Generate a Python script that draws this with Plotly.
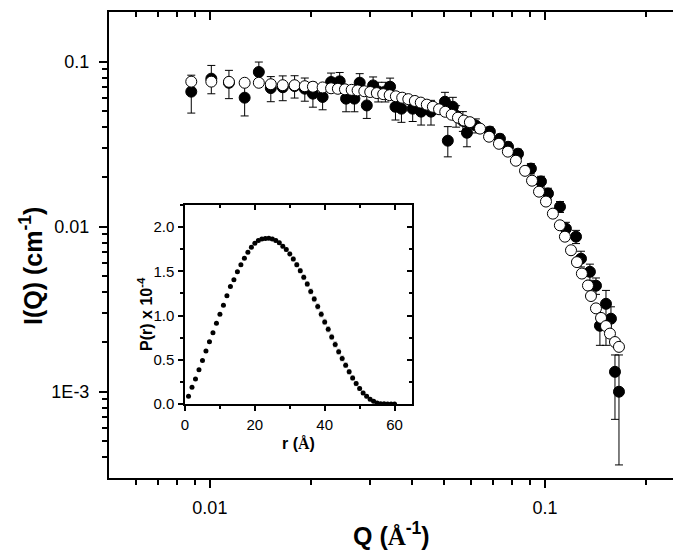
import plotly.graph_objects as go
import math

# ---------------- main plot data ----------------
q_open = [0.0088, 0.0101, 0.0114, 0.0127, 0.0140, 0.0152, 0.0165, 0.0179, 0.0192, 0.0203,
          0.0217, 0.0230, 0.0241, 0.0253, 0.0265, 0.0276, 0.0289, 0.0301, 0.0315, 0.0329,
          0.0344, 0.0359, 0.0375, 0.0391, 0.0409, 0.0426, 0.0444, 0.0463, 0.0483, 0.0504,
          0.0527, 0.0550, 0.0573, 0.0597, 0.0640, 0.0681, 0.0729, 0.0775, 0.0819, 0.0872,
          0.0915, 0.0960, 0.1007, 0.1056, 0.1108, 0.1147, 0.1196, 0.1246, 0.1289, 0.1344,
          0.1372, 0.1420, 0.1470, 0.1521, 0.1563, 0.1618, 0.1663]
i_open = [0.0757, 0.0757, 0.0755, 0.0745, 0.0745, 0.0730, 0.0720, 0.0720, 0.0710, 0.0705,
          0.0698, 0.0690, 0.0685, 0.0680, 0.0675, 0.0670, 0.0662, 0.0655, 0.0645, 0.0636,
          0.0627, 0.0617, 0.0605, 0.0593, 0.0578, 0.0565, 0.0549, 0.0533, 0.0515, 0.0497,
          0.0477, 0.0458, 0.0440, 0.0430, 0.0393, 0.0351, 0.0318, 0.0285, 0.0251, 0.0218,
          0.0190, 0.0163, 0.0142, 0.0120, 0.0102, 0.0087, 0.0072, 0.0061, 0.0052, 0.0044,
          0.0038, 0.0032, 0.0028, 0.0025, 0.00225, 0.0020, 0.00187]
e_open = [0.0022, 0.0022, 0.0022, 0.0021, 0.0021, 0.0021, 0.0020, 0.0020, 0.0020, 0.0020,
          0.0020, 0.0019, 0.0019, 0.0019, 0.0019, 0.0018, 0.0018, 0.0018, 0.0018, 0.0017,
          0.0017, 0.0017, 0.0016, 0.0016, 0.0016, 0.0015, 0.0015, 0.0015, 0.0014, 0.0014,
          0.0013, 0.0013, 0.0012, 0.0012, 0.0011, 0.0010, 0.0009, 0.0008, 0.0007, 0.0006,
          0.0005, 0.00045, 0.0004, 0.00035, 0.0003, 0.00026, 0.00022, 0.00018, 0.00016, 0.00013,
          0.00012, 0.0001, 0.00009, 0.00008, 0.00007, 0.00006, 0.00006]

q_fill = [0.0088, 0.0101, 0.0114, 0.0127, 0.0140, 0.0152, 0.0165, 0.0179, 0.0192, 0.0203,
          0.0217, 0.0230, 0.0244, 0.0255, 0.0270, 0.0280, 0.0294, 0.0307, 0.0318, 0.0334,
          0.0345, 0.0358, 0.0373, 0.0403, 0.0427, 0.0457, 0.0503, 0.0513, 0.0531, 0.0543,
          0.0569, 0.0585, 0.0622, 0.0685, 0.0734, 0.0776, 0.0831, 0.0908, 0.0973, 0.1021,
          0.1109, 0.1155, 0.1238, 0.1281, 0.1362, 0.1420, 0.1459, 0.1521, 0.1574, 0.1618,
          0.1663]
i_fill = [0.0658, 0.0789, 0.0745, 0.0605, 0.0866, 0.0692, 0.0700, 0.0712, 0.0686, 0.0640,
          0.0611, 0.0753, 0.0760, 0.0597, 0.0597, 0.0746, 0.0543, 0.0718, 0.0660, 0.0660,
          0.0705, 0.0533, 0.0519, 0.0519, 0.0498, 0.0498, 0.0572, 0.0332, 0.0533, 0.0471,
          0.0438, 0.0371, 0.0410, 0.0377, 0.0341, 0.0305, 0.0277, 0.0225, 0.0188, 0.0159,
          0.0132, 0.00973, 0.00870, 0.00640, 0.00533, 0.00439, 0.00251, 0.00341, 0.00277, 0.00132,
          0.00100]
e_fill_up = [0.0170, 0.0160, 0.0141, 0.0148, 0.0129, 0.0120, 0.0120, 0.0110, 0.0110, 0.0110,
             0.0100, 0.0100, 0.0100, 0.0100, 0.0100, 0.0100, 0.0090, 0.0090, 0.0090, 0.0090,
             0.0090, 0.0090, 0.0090, 0.0085, 0.0085, 0.0085, 0.0080, 0.0072, 0.0075, 0.0070,
             0.0060, 0.0033, 0.0040, 0.0025, 0.0022, 0.0020, 0.0018, 0.0016, 0.0014, 0.0012,
             0.0010, 0.0009, 0.0008, 0.0007, 0.0006, 0.0005, 0.0008, 0.0007, 0.0005, 0.00035,
             0.00067]
e_fill_dn = [0.0170, 0.0150, 0.0148, 0.0136, 0.0130, 0.0120, 0.0120, 0.0110, 0.0110, 0.0110,
             0.0100, 0.0100, 0.0100, 0.0100, 0.0100, 0.0100, 0.0090, 0.0090, 0.0090, 0.0090,
             0.0090, 0.0090, 0.0090, 0.0085, 0.0085, 0.0085, 0.0080, 0.0067, 0.0075, 0.0070,
             0.0060, 0.0066, 0.0040, 0.0025, 0.0022, 0.0020, 0.0018, 0.0016, 0.0014, 0.0012,
             0.0010, 0.0009, 0.0008, 0.0007, 0.0006, 0.0005, 0.0006, 0.0015, 0.0005, 0.00064,
             0.00064]

x_major = [0.01, 0.1]
x_major_text = ["0.01", "0.1"]
x_minor = [0.006, 0.007, 0.008, 0.009, 0.02, 0.03, 0.04, 0.05, 0.06, 0.07, 0.08, 0.09, 0.2]
y_major = [0.001, 0.01, 0.1]
y_major_text = ["1E-3", "0.01", "0.1"]
y_minor = [0.0004, 0.0005, 0.0006, 0.0007, 0.0008, 0.0009,
           0.002, 0.003, 0.004, 0.005, 0.006, 0.007, 0.008, 0.009,
           0.02, 0.03, 0.04, 0.05, 0.06, 0.07, 0.08, 0.09]
x_range = [0.005, 0.26]
y_range = [0.0003, 0.2]

# ---------------- inset data ----------------
r_vals = list(range(1, 61))
p_vals = [0.087, 0.189, 0.284, 0.386, 0.492, 0.598, 0.705, 0.807, 0.913, 1.015,
          1.117, 1.223, 1.330, 1.405, 1.496, 1.576, 1.648, 1.716, 1.773, 1.818,
          1.848, 1.867, 1.871, 1.875, 1.867, 1.848, 1.822, 1.784, 1.746, 1.697,
          1.640, 1.576, 1.508, 1.432, 1.356, 1.273, 1.186, 1.102, 1.015, 0.928,
          0.845, 0.758, 0.674, 0.591, 0.515, 0.439, 0.364, 0.295, 0.231, 0.174,
          0.125, 0.087, 0.053, 0.030, 0.011, 0.004, 0.002, 0.001, 0.0005, 0.0]
p_err = [0.005, 0.005, 0.006, 0.006, 0.007, 0.007, 0.008, 0.008, 0.009, 0.009,
         0.010, 0.010, 0.011, 0.011, 0.012, 0.012, 0.013, 0.013, 0.014, 0.014,
         0.015, 0.015, 0.016, 0.016, 0.017, 0.018, 0.019, 0.020, 0.021, 0.022,
         0.023, 0.024, 0.025, 0.026, 0.027, 0.028, 0.029, 0.030, 0.030, 0.030,
         0.030, 0.030, 0.030, 0.029, 0.028, 0.027, 0.026, 0.025, 0.024, 0.022,
         0.020, 0.018, 0.016, 0.014, 0.012, 0.010, 0.008, 0.006, 0.004, 0.002]
r_range = [0, 65]
p_range = [0, 2.25]
r_ticks = [0, 20, 40, 60]
p_ticks = [0, 0.5, 1.0, 1.5, 2.0]
p_ticktext = ["0.0", "0.5", "1.0", "1.5", "2.0"]

FONT = "Liberation Sans, Arial, sans-serif"

fig = go.Figure()

fig.add_trace(go.Scatter(
    x=q_fill, y=i_fill, mode="markers",
    marker=dict(symbol="circle", size=11, color="black", line=dict(color="black", width=1)),
    error_y=dict(type="data", array=e_fill_up, arrayminus=e_fill_dn, symmetric=False,
                 color="black", thickness=1, width=4),
    xaxis="x", yaxis="y", showlegend=False, hoverinfo="skip"))

fig.add_trace(go.Scatter(
    x=q_open, y=i_open, mode="markers",
    marker=dict(symbol="circle", size=11, color="white", line=dict(color="black", width=1)),
    error_y=dict(type="data", array=e_open, color="black", thickness=1, width=3),
    xaxis="x", yaxis="y", showlegend=False, hoverinfo="skip"))

fig.add_trace(go.Scatter(
    x=r_vals, y=p_vals, mode="markers",
    marker=dict(symbol="circle", size=5, color="black"),
    error_y=dict(type="data", array=p_err, color="#bbbbbb", thickness=1, width=2),
    xaxis="x2", yaxis="y2", showlegend=False, hoverinfo="skip"))

# dummy traces so mirror axes render
fig.add_trace(go.Scatter(x=[None], y=[None], xaxis="x3", yaxis="y", showlegend=False, hoverinfo="skip"))
fig.add_trace(go.Scatter(x=[None], y=[None], xaxis="x", yaxis="y3", showlegend=False, hoverinfo="skip"))
fig.add_trace(go.Scatter(x=[None], y=[None], xaxis="x4", yaxis="y2", showlegend=False, hoverinfo="skip"))
fig.add_trace(go.Scatter(x=[None], y=[None], xaxis="x2", yaxis="y4", showlegend=False, hoverinfo="skip"))

lx = [math.log10(v) for v in x_range]
ly = [math.log10(v) for v in y_range]

main_common = dict(showgrid=False, zeroline=False, showline=True, linecolor="black",
                   linewidth=2, tickcolor="black", tickwidth=2)

inset_dom_x = [0.1322, 0.527]
inset_dom_y = [0.1588, 0.5858]

fig.update_layout(
    width=681, height=554,
    margin=dict(l=101, r=5, t=4, b=84),
    paper_bgcolor="white", plot_bgcolor="white",
    font=dict(family=FONT, color="black"),
    xaxis=dict(type="log", range=lx, domain=[0, 1], anchor="y",
               ticks="outside", ticklen=8, tickvals=x_major, ticktext=x_major_text,
               tickfont=dict(size=18), ticklabelstandoff=4,
               minor=dict(tickvals=x_minor, ticks="outside", ticklen=5, tickwidth=2, tickcolor="black"),
               **main_common),
    yaxis=dict(type="log", range=ly, domain=[0, 1], anchor="x",
               ticks="outside", ticklen=8, tickvals=y_major, ticktext=y_major_text,
               tickfont=dict(size=18), ticklabelstandoff=6,
               minor=dict(tickvals=y_minor, ticks="outside", ticklen=5, tickwidth=2, tickcolor="black"),
               **main_common),
    xaxis3=dict(type="log", range=lx, overlaying="x", side="top", anchor="y",
                ticks="inside", ticklen=8, tickvals=x_major, showticklabels=False,
                minor=dict(tickvals=x_minor, ticks="inside", ticklen=5, tickwidth=2, tickcolor="black"),
                **main_common),
    yaxis3=dict(type="log", range=ly, overlaying="y", side="right", anchor="x",
                ticks="inside", ticklen=8, tickvals=y_major, showticklabels=False,
                minor=dict(tickvals=y_minor, ticks="inside", ticklen=5, tickwidth=2, tickcolor="black"),
                **main_common),
    xaxis2=dict(range=r_range, domain=inset_dom_x, anchor="y2",
                showgrid=False, zeroline=False, showline=True, linecolor="black", linewidth=1.5,
                ticks="outside", ticklen=5, tickwidth=1.5, tickcolor="black",
                tickvals=r_ticks, tickfont=dict(size=15), ticklabelstandoff=1,
                minor=dict(dtick=10, ticks="outside", ticklen=3, tickwidth=1.5, tickcolor="black")),
    yaxis2=dict(range=p_range, domain=inset_dom_y, anchor="x2",
                showgrid=False, zeroline=False, showline=True, linecolor="black", linewidth=1.5,
                ticks="outside", ticklen=5, tickwidth=1.5, tickcolor="black",
                tickvals=p_ticks, ticktext=p_ticktext, tickfont=dict(size=15), ticklabelstandoff=1,
                minor=dict(dtick=0.25, ticks="outside", ticklen=3, tickwidth=1.5, tickcolor="black")),
    xaxis4=dict(range=r_range, overlaying="x2", side="top", anchor="y2",
                showgrid=False, zeroline=False, showline=True, linecolor="black", linewidth=1.5,
                ticks="inside", ticklen=5, tickwidth=1.5, tickcolor="black",
                tickvals=r_ticks, showticklabels=False,
                minor=dict(dtick=10, ticks="inside", ticklen=3, tickwidth=1.5, tickcolor="black")),
    yaxis4=dict(range=p_range, overlaying="y2", side="right", anchor="x2",
                showgrid=False, zeroline=False, showline=True, linecolor="black", linewidth=1.5,
                ticks="inside", ticklen=5, tickwidth=1.5, tickcolor="black",
                tickvals=p_ticks, showticklabels=False,
                minor=dict(dtick=0.25, ticks="inside", ticklen=3, tickwidth=1.5, tickcolor="black")),
    annotations=[
        dict(text="<b>I(Q) (cm<sup>-1</sup>)</b>", textangle=-90, xref="paper", yref="paper",
             x=-0.1357, y=0.455, xanchor="center", yanchor="middle", showarrow=False,
             font=dict(size=25, family=FONT)),
        dict(text="<b>Q (<span style='font-family:Liberation Serif'>Å</span><sup>-1</sup>)</b>",
             xref="paper", yref="paper", x=0.492, y=-0.1202, xanchor="center", yanchor="middle",
             showarrow=False, font=dict(size=25, family=FONT)),
        dict(text="<b>P(r) x 10<sup>-4</sup></b>", textangle=-90, xref="paper", yref="paper",
             x=0.0626, y=0.352, xanchor="center", yanchor="middle", showarrow=False,
             font=dict(size=16, family=FONT)),
        dict(text="<b>r (<span style='font-family:Liberation Serif'>Å</span>)</b>",
             xref="paper", yref="paper", x=0.3287, y=0.0751, xanchor="center", yanchor="middle",
             showarrow=False, font=dict(size=16, family=FONT)),
    ],
)

fig.write_html("out.html", config={"displayModeBar": False})
